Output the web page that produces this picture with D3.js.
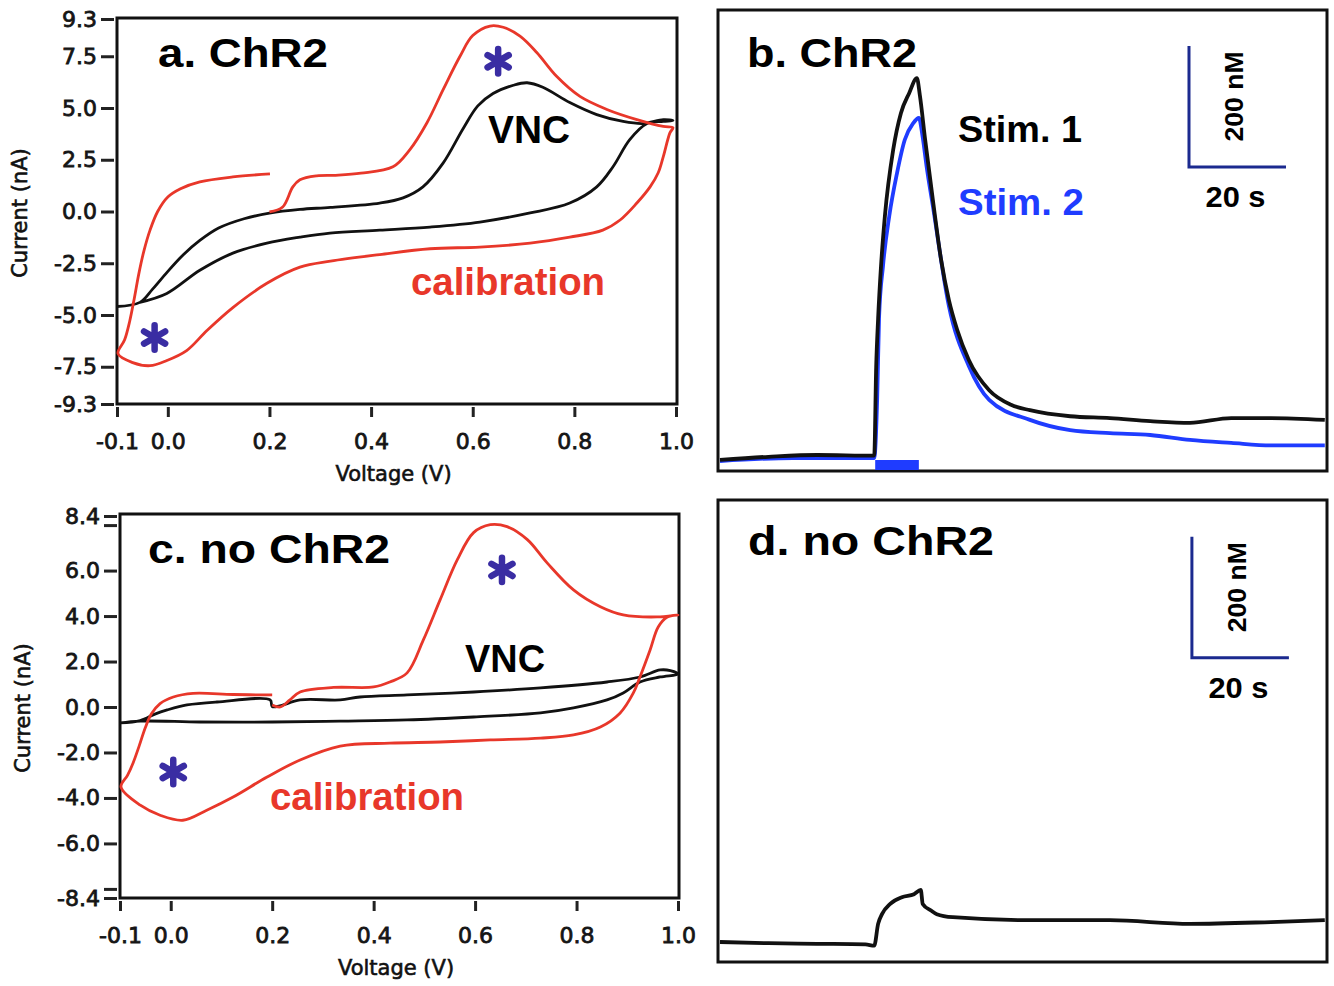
<!DOCTYPE html>
<html>
<head>
<meta charset="utf-8">
<script src="https://cdn.jsdelivr.net/npm/d3@7"></script>
<style>
  html, body { margin: 0; padding: 0; background: #fff; }
  svg { display: block; }
</style>
</head>
<body>
<svg id="chart" width="1334" height="986"></svg>
<script>
// ---------------- DATA ----------------
const voltTicks = [-0.1, 0.0, 0.2, 0.4, 0.6, 0.8, 1.0];
const currentTicksA = [9.3, 7.5, 5.0, 2.5, 0.0, -2.5, -5.0, -7.5, -9.3];
const currentTicksC = [8.4, 6.0, 4.0, 2.0, 0.0, -2.0, -4.0, -6.0, -8.4];
const minorTicksC = [8.0, -8.0];

// Panel a: cyclic voltammograms [voltage (V), current (nA)]
const calibA = [[0.200,-0.02],[0.226,0.22],[0.246,1.19],[0.260,1.53],[0.293,1.72],[0.330,1.75],[0.380,1.85],[0.443,2.16],[0.476,2.98],[0.510,4.29],[0.542,5.90],[0.575,7.50],[0.600,8.50],[0.634,8.96],[0.660,8.90],[0.693,8.47],[0.726,7.68],[0.765,6.53],[0.811,5.56],[0.864,4.93],[0.923,4.44],[0.975,4.11],[0.994,4.05],[0.988,3.80],[0.975,2.65],[0.965,1.87],[0.949,1.19],[0.923,0.41],[0.890,-0.41],[0.856,-0.90],[0.791,-1.24],[0.713,-1.53],[0.614,-1.72],[0.516,-1.80],[0.417,-2.08],[0.320,-2.40],[0.260,-2.69],[0.195,-3.47],[0.128,-4.64],[0.077,-5.75],[0.037,-6.72],[-0.002,-7.20],[-0.035,-7.45],[-0.069,-7.30],[-0.098,-6.87],[-0.085,-6.20],[-0.075,-5.30],[-0.066,-4.20],[-0.057,-3.00],[-0.047,-1.90],[-0.035,-0.90],[-0.020,0.00],[0.000,0.70],[0.025,1.10],[0.063,1.43],[0.128,1.67],[0.201,1.82]];
const vncA = [[-0.100,-4.59],[-0.055,-4.39],[-0.030,-3.75],[-0.002,-2.95],[0.030,-2.10],[0.063,-1.40],[0.100,-0.80],[0.150,-0.35],[0.200,-0.08],[0.260,0.10],[0.320,0.20],[0.417,0.41],[0.463,0.66],[0.502,1.19],[0.542,2.35],[0.581,4.00],[0.610,5.10],[0.640,5.70],[0.680,6.10],[0.707,6.22],[0.738,6.00],[0.791,5.26],[0.844,4.68],[0.896,4.35],[0.935,4.25],[0.975,4.44],[0.994,4.40],[0.975,4.35],[0.943,4.25],[0.909,3.47],[0.876,2.16],[0.844,1.19],[0.791,0.41],[0.713,-0.07],[0.614,-0.51],[0.516,-0.75],[0.417,-0.90],[0.319,-1.04],[0.260,-1.24],[0.195,-1.53],[0.128,-2.01],[0.063,-2.84],[-0.002,-3.96],[-0.055,-4.39]];
const starsA = [[-0.026,-6.09],[0.650,7.26]];

// Panel c
const calibC = [[0.200,0.09],[0.216,0.00],[0.235,0.31],[0.255,0.66],[0.321,0.86],[0.400,0.88],[0.432,1.10],[0.466,1.50],[0.498,2.95],[0.531,4.71],[0.565,6.48],[0.597,7.67],[0.630,8.02],[0.663,7.93],[0.703,7.36],[0.742,6.34],[0.794,5.15],[0.847,4.41],[0.892,4.05],[0.959,3.96],[1.000,4.05],[0.979,3.96],[0.961,3.52],[0.945,2.51],[0.925,1.32],[0.912,0.62],[0.886,-0.26],[0.847,-0.88],[0.794,-1.23],[0.729,-1.37],[0.630,-1.45],[0.531,-1.54],[0.432,-1.59],[0.334,-1.72],[0.255,-2.33],[0.190,-3.08],[0.123,-3.96],[0.071,-4.54],[0.024,-4.98],[-0.021,-4.76],[-0.060,-4.32],[-0.098,-3.52],[-0.085,-3.00],[-0.074,-2.45],[-0.062,-1.70],[-0.050,-0.90],[-0.038,-0.30],[-0.021,0.15],[0.005,0.44],[0.044,0.60],[0.123,0.55],[0.200,0.53]];
const vncC = [[-0.100,-0.70],[-0.060,-0.60],[-0.030,-0.30],[-0.007,-0.13],[0.032,0.09],[0.091,0.22],[0.196,0.31],[0.200,0.02],[0.215,0.05],[0.255,0.31],[0.334,0.31],[0.373,0.44],[0.466,0.53],[0.597,0.66],[0.729,0.84],[0.860,1.10],[0.925,1.32],[0.965,1.63],[0.985,1.60],[1.000,1.45],[0.965,1.32],[0.925,1.10],[0.892,0.62],[0.860,0.31],[0.794,-0.04],[0.729,-0.26],[0.597,-0.44],[0.466,-0.57],[0.334,-0.62],[0.200,-0.66],[0.058,-0.66],[-0.060,-0.62],[-0.100,-0.70]];
const starsC = [[0.005,-2.86],[0.653,6.03]];

// Panel b: dopamine traces [time (s), concentration (nM)]
const stim1B = [[0,-3],[10,2],[20,5],[31.8,4],[32.2,150],[32.6,230],[33.2,317],[34.0,400],[35.7,509],[37.3,570],[39.0,603],[40.6,628],[41.2,600],[42.3,526],[43.9,426],[45.6,327],[47.2,261],[48.9,212],[51.3,162],[55.5,112],[60.0,88],[63.9,79],[72.2,69],[80.4,66],[88.7,61],[96.9,58],[105.4,66],[113.6,66],[124.7,63]];
const stim2B = [[0,-5],[15,0],[31.8,0],[32.4,96],[32.8,233],[33.6,317],[34.9,400],[36.5,471],[38.1,526],[39.8,553],[41.0,562],[41.8,530],[42.6,482],[43.9,416],[47.2,251],[51.3,152],[55.5,96],[63.9,63],[72.2,46],[80.4,41],[88.7,38],[96.9,30],[105.4,25],[113.6,21],[124.7,21]];
const stimWindowB = [32, 41];

// Panel d
const traceD = [[0,0],[10,-2],[20,-3],[30,-4],[31.8,-6],[32.6,30],[33.4,46],[35.1,63],[37.5,74],[40.0,79],[41.4,86],[41.8,63],[43.5,52],[44.7,46],[48.0,41],[63.9,36],[80.4,36],[96.9,30],[113.6,33],[124.7,36]];

// scale bars [time at bar, concentration at bar bottom]
const scaleBarB = [96.7, 481];
const scaleBarD = [97.3, 470];
const scaleBarSize = [20, 200]; // s, nM

// ---------------- DRAWING ----------------
const RED = "#e8372a", BLACK = "#111", BLUE = "#1f3cff", NAVY = "#1b2a8f", STAR = "#3a2da3";
const svg = d3.select("#chart");
svg.append("rect").attr("width",1334).attr("height",986).attr("fill","#fff");

const fmt = d => d.toFixed(1);
const curve = d3.curveCatmullRom.alpha(0.5);

function bigText(g, txt, x, y, size, len, color, anchor) {
  const t = g.append("text").attr("x", x).attr("y", y)
    .attr("font-family", "'Liberation Sans', Arial, sans-serif")
    .attr("font-weight", "bold").attr("font-size", size)
    .attr("fill", color || "#000").text(txt);
  if (anchor) t.attr("text-anchor", anchor);
  if (len) t.attr("textLength", len).attr("lengthAdjust", "spacingAndGlyphs");
  return t;
}

function cvPanel(opts) {
  const g = svg.append("g");
  const x = d3.scaleLinear().domain([-0.1, 1.0]).range([opts.x0, opts.x1]);
  const y = d3.scaleLinear().domain([-opts.ymax, opts.ymax]).range([opts.y1, opts.y0]);

  // axes
  const yAxis = d3.axisLeft(y).tickValues(opts.yTicks).tickFormat(fmt).tickSize(13).tickPadding(4);
  const ya = g.append("g").attr("transform", `translate(${opts.x0 - 3},0)`).call(yAxis);
  if (opts.minor) {
    g.append("g").attr("transform", `translate(${opts.x0 - 3},0)`)
      .call(d3.axisLeft(y).tickValues(opts.minor).tickFormat("").tickSize(13))
      .call(s => s.select(".domain").remove())
      .selectAll("line").attr("stroke-width", 3).attr("stroke", "#222");
  }
  const xAxis = d3.axisBottom(x).tickValues(voltTicks).tickFormat(fmt).tickSize(10).tickPadding(16);
  const xa = g.append("g").attr("transform", `translate(0,${opts.frameB + 3})`).call(xAxis);
  [ya, xa].forEach(a => {
    a.select(".domain").remove();
    a.selectAll(".tick line").attr("stroke", "#222").attr("stroke-width", 3);
    a.selectAll(".tick text").attr("font-family", "'DejaVu Sans', Verdana, sans-serif")
      .attr("font-size", 22).attr("fill", "#151515").attr("stroke", "#151515").attr("stroke-width", 0.8);
  });

  // frame
  g.append("rect").attr("x", opts.x0).attr("y", opts.frameT)
    .attr("width", opts.x1 - opts.x0 + 1).attr("height", opts.frameB - opts.frameT)
    .attr("fill", "none").attr("stroke", "#111").attr("stroke-width", 3);

  // axis titles
  g.append("text").attr("x", (opts.x0 + opts.x1) / 2 - 3).attr("y", opts.frameB + 77)
    .attr("text-anchor", "middle").attr("font-family", "'DejaVu Sans', Verdana, sans-serif")
    .attr("font-size", 21).attr("fill", "#111").attr("stroke", "#111").attr("stroke-width", 0.6)
    .text("Voltage (V)");
  g.append("text").attr("transform", `translate(${opts.ytitleX},${(opts.frameT + opts.frameB) / 2 + 2}) rotate(-90)`)
    .attr("text-anchor", "middle").attr("font-family", "'DejaVu Sans', Verdana, sans-serif")
    .attr("font-size", 21).attr("fill", "#111").attr("stroke", "#111").attr("stroke-width", 0.6)
    .text("Current (nA)");

  const line = d3.line().x(d => x(d[0])).y(d => y(d[1])).curve(curve);
  g.append("path").datum(opts.vnc).attr("d", line).attr("fill", "none")
    .attr("stroke", BLACK).attr("stroke-width", 2.8).attr("stroke-linejoin", "round");
  g.append("path").datum(opts.calib).attr("d", line).attr("fill", "none")
    .attr("stroke", RED).attr("stroke-width", 2.8).attr("stroke-linejoin", "round");

  // asterisks
  const star = d3.symbol(d3.symbolAsterisk, 420);
  g.selectAll(".star").data(opts.stars).join("path")
    .attr("transform", d => `translate(${x(d[0])},${y(d[1])})`)
    .attr("d", star).attr("fill", "none").attr("stroke", STAR)
    .attr("stroke-width", 6.5).attr("stroke-linecap", "round");

  bigText(g, opts.title, opts.titleX, opts.titleY, 40, opts.titleLen);
  bigText(g, "VNC", opts.vncX, opts.vncY, 38, opts.vncLen);
  bigText(g, "calibration", opts.calX, opts.calY, 38, 194, RED);
}

cvPanel({ x0: 117, x1: 676, y0: 19, y1: 404, frameT: 18, frameB: 404, ymax: 9.3,
  yTicks: currentTicksA, ytitleX: 27,
  calib: calibA, vnc: vncA, stars: starsA,
  title: "a. ChR2", titleX: 158, titleY: 67, titleLen: 170,
  vncX: 488, vncY: 143, vncLen: 82, calX: 411, calY: 295 });

cvPanel({ x0: 120, x1: 678, y0: 516, y1: 898, frameT: 514, frameB: 898, ymax: 8.4,
  yTicks: currentTicksC, minor: minorTicksC, ytitleX: 30,
  calib: calibC, vnc: vncC, stars: starsC,
  title: "c. no ChR2", titleX: 148, titleY: 563, titleLen: 242,
  vncX: 465, vncY: 672, vncLen: 80, calX: 270, calY: 810 });

// -------- time-course panels --------
const tScale = d3.scaleLinear().domain([0, 125]).range([720, 1326.25]);

function tracePanel(opts) {
  const g = svg.append("g");
  const c = d3.scaleLinear().domain([0, 700]).range([opts.base, opts.base - 700 * 0.605]);
  const line = d3.line().x(d => tScale(d[0])).y(d => c(d[1])).curve(d3.curveMonotoneX);

  g.append("rect").attr("x", 718).attr("y", opts.top).attr("width", 609).attr("height", opts.bottom - opts.top)
    .attr("fill", "none").attr("stroke", "#111").attr("stroke-width", 3);

  if (opts.stim) {
    g.append("rect").attr("x", tScale(opts.stim[0])).attr("y", opts.bottom - 11)
      .attr("width", tScale(opts.stim[1]) - tScale(opts.stim[0])).attr("height", 10).attr("fill", BLUE);
  }
  opts.traces.forEach(tr => {
    g.append("path").datum(tr.data).attr("d", line).attr("fill", "none")
      .attr("stroke", tr.color).attr("stroke-width", 3.8).attr("stroke-linejoin", "round");
  });

  // scale bar
  const sx = tScale(opts.bar[0]), sy0 = c(opts.bar[1]), sy1 = c(opts.bar[1] + scaleBarSize[1]);
  const sx1 = tScale(opts.bar[0] + scaleBarSize[0]);
  g.append("path").attr("d", `M${sx},${sy1}V${sy0}H${sx1}`).attr("fill", "none")
    .attr("stroke", NAVY).attr("stroke-width", 3);
  bigText(g, "20 s", (sx + sx1) / 2 - 2, sy0 + 40, 29, 60, "#000", "middle");
  bigText(g, "200 nM", 0, 0, 26, 90, "#000", "middle")
    .attr("transform", `translate(${sx + 54},${(sy0 + sy1) / 2 - 10}) rotate(-90)`);

  bigText(g, opts.title, opts.titleX, opts.titleY, 40, opts.titleLen);
  return g;
}

const gb = tracePanel({ top: 10, bottom: 471, base: 458, stim: stimWindowB, bar: scaleBarB,
  traces: [{ data: stim2B, color: BLUE }, { data: stim1B, color: BLACK }],
  title: "b. ChR2", titleX: 747, titleY: 67, titleLen: 170 });
bigText(gb, "Stim. 1", 958, 142, 37, 124, "#000");
bigText(gb, "Stim. 2", 958, 215, 37, 126, BLUE);

tracePanel({ top: 500, bottom: 962, base: 942, bar: scaleBarD,
  traces: [{ data: traceD, color: BLACK }],
  title: "d. no ChR2", titleX: 748, titleY: 555, titleLen: 246 });
</script>
</body>
</html>
